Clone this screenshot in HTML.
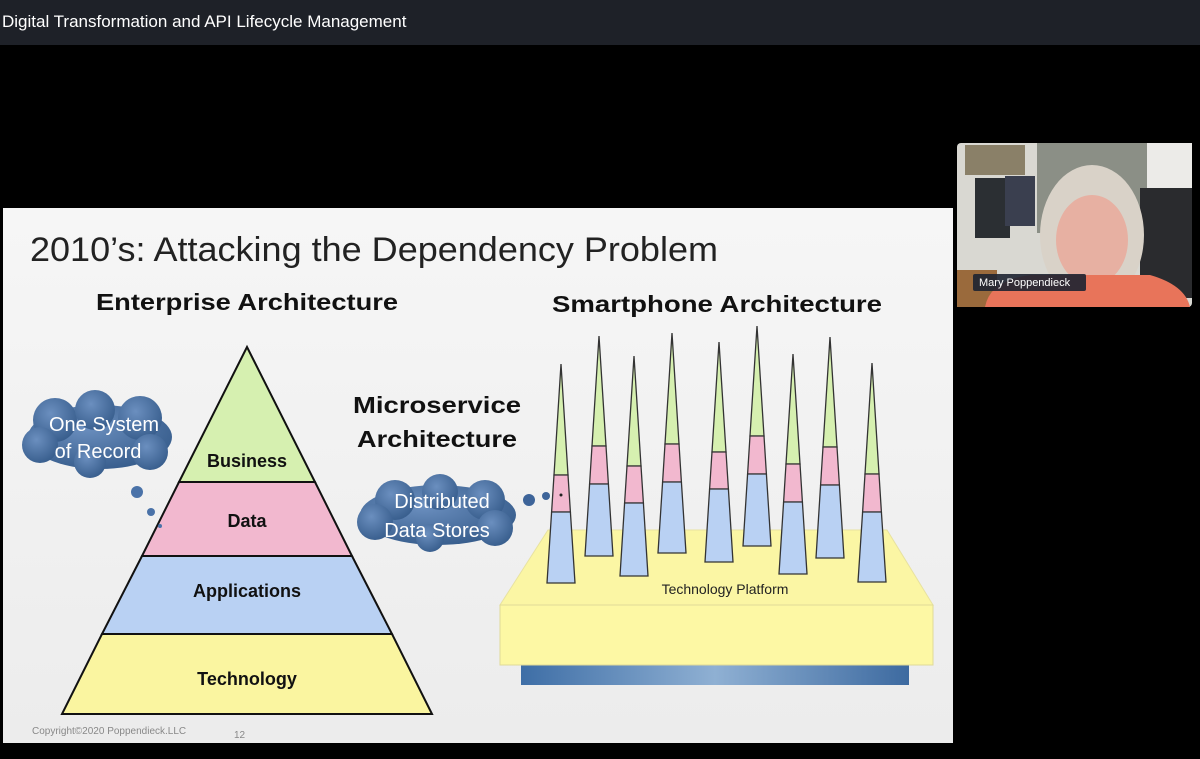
<!DOCTYPE html>
<html><head><meta charset="utf-8"><style>
html,body{margin:0;padding:0;width:1200px;height:759px;overflow:hidden;background:#000;}
svg{display:block}
</style></head><body>
<svg width="1200" height="759" viewBox="0 0 1200 759" xmlns="http://www.w3.org/2000/svg" font-family="Liberation Sans, sans-serif">
<defs>
<linearGradient id="slide" x1="0" y1="0" x2="0" y2="1"><stop offset="0" stop-color="#f6f6f6"/><stop offset="1" stop-color="#ececec"/></linearGradient>
<radialGradient id="cloud" cx="0.4" cy="0.35" r="0.8"><stop offset="0" stop-color="#6b8fbf"/><stop offset="1" stop-color="#2f5584"/></radialGradient>
<linearGradient id="strip" x1="0" y1="0" x2="1" y2="0"><stop offset="0" stop-color="#3e6ea6"/><stop offset="0.5" stop-color="#8fb0d3"/><stop offset="1" stop-color="#3d6aa0"/></linearGradient>
</defs>
<rect x="0" y="0" width="1200" height="45" fill="#1e2128"/>
<text x="2" y="27" font-size="17" fill="#ffffff">Digital Transformation and API Lifecycle Management</text>
<rect x="3" y="208" width="950" height="535" fill="url(#slide)"/>
<text x="30" y="261" font-size="34" fill="#222" textLength="688" lengthAdjust="spacingAndGlyphs">2010’s:  Attacking the Dependency Problem</text>
<text x="96" y="310" font-size="23" font-weight="bold" fill="#111" textLength="302" lengthAdjust="spacingAndGlyphs">Enterprise Architecture</text>
<text x="552" y="312" font-size="23" font-weight="bold" fill="#111" textLength="330" lengthAdjust="spacingAndGlyphs">Smartphone Architecture</text>
<text x="353" y="413" font-size="23" font-weight="bold" fill="#111" textLength="168" lengthAdjust="spacingAndGlyphs">Microservice</text>
<text x="357" y="447" font-size="23" font-weight="bold" fill="#111" textLength="160" lengthAdjust="spacingAndGlyphs">Architecture</text>
<!-- pyramid -->
<polygon points="247,347 315,482 179,482" fill="#d6f0b0" stroke="#111" stroke-width="2"/>
<polygon points="179,482 315,482 352,556 142,556" fill="#f2b8cf" stroke="#111" stroke-width="2"/>
<polygon points="142,556 352,556 392,634 102,634" fill="#b9d1f3" stroke="#111" stroke-width="2"/>
<polygon points="102,634 392,634 432,714 62,714" fill="#faf5a0" stroke="#111" stroke-width="2"/>
<g font-size="18" font-weight="bold" fill="#111" text-anchor="middle">
<text x="247" y="467">Business</text><text x="247" y="527">Data</text>
<text x="247" y="597">Applications</text><text x="247" y="685">Technology</text></g>
<!-- cloud 1 -->
<g fill="url(#cloud)">
<ellipse cx="100" cy="437" rx="72" ry="32"/><circle cx="55" cy="420" r="22"/><circle cx="95" cy="410" r="20"/><circle cx="140" cy="418" r="22"/><circle cx="40" cy="445" r="18"/><circle cx="90" cy="462" r="16"/><circle cx="150" cy="452" r="18"/>
</g>
<circle cx="137" cy="492" r="6" fill="#4a72a8"/><circle cx="151" cy="512" r="4" fill="#4a72a8"/><circle cx="160" cy="526" r="2" fill="#4a72a8"/>
<text x="104" y="431" font-size="20" fill="#fff" text-anchor="middle">One System</text>
<text x="98" y="458" font-size="20" fill="#fff" text-anchor="middle">of Record</text>
<!-- cloud 2 -->
<g fill="url(#cloud)">
<ellipse cx="438" cy="515" rx="78" ry="30"/><circle cx="395" cy="500" r="20"/><circle cx="440" cy="492" r="18"/><circle cx="485" cy="500" r="20"/><circle cx="375" cy="522" r="18"/><circle cx="430" cy="538" r="14"/><circle cx="495" cy="528" r="18"/>
</g>
<circle cx="529" cy="500" r="6" fill="#3d6499"/><circle cx="546" cy="496" r="4" fill="#3d6499"/>
<text x="442" y="508" font-size="20" fill="#fff" text-anchor="middle">Distributed</text>
<text x="437" y="537" font-size="20" fill="#fff" text-anchor="middle">Data Stores</text>
<!-- platform -->
<rect x="521" y="664" width="388" height="21" fill="url(#strip)"/>
<polygon points="548,530 887,530 933,605 500,605" fill="#fbf6a4" stroke="#e8e2a0"/>
<rect x="500" y="605" width="433" height="60" fill="#fdf8a4" stroke="#e0da98"/>
<text x="725" y="594" font-size="14" fill="#222" text-anchor="middle">Technology Platform</text>
<!-- spikes -->
<g stroke="#333" stroke-width="1.3">
<polygon points="561,364 568,475 554,475" fill="#d6f0b0"/><polygon points="554,475 568,475 570.4,512 551.6,512" fill="#f2b8cf"/><polygon points="551.6,512 570.4,512 575,583 547,583" fill="#b9d1f3"/>
<polygon points="599,336 606,446 592,446" fill="#d6f0b0"/><polygon points="592,446 606,446 608.4,484 589.6,484" fill="#f2b8cf"/><polygon points="589.6,484 608.4,484 613,556 585,556" fill="#b9d1f3"/>
<polygon points="634,356 641,466 627,466" fill="#d6f0b0"/><polygon points="627,466 641,466 643.4,503 624.6,503" fill="#f2b8cf"/><polygon points="624.6,503 643.4,503 648,576 620,576" fill="#b9d1f3"/>
<polygon points="672,333 679,444 665,444" fill="#d6f0b0"/><polygon points="665,444 679,444 681.4,482 662.6,482" fill="#f2b8cf"/><polygon points="662.6,482 681.4,482 686,553 658,553" fill="#b9d1f3"/>
<polygon points="719,342 726,452 712,452" fill="#d6f0b0"/><polygon points="712,452 726,452 728.4,489 709.6,489" fill="#f2b8cf"/><polygon points="709.6,489 728.4,489 733,562 705,562" fill="#b9d1f3"/>
<polygon points="757,326 764,436 750,436" fill="#d6f0b0"/><polygon points="750,436 764,436 766.4,474 747.6,474" fill="#f2b8cf"/><polygon points="747.6,474 766.4,474 771,546 743,546" fill="#b9d1f3"/>
<polygon points="793,354 800,464 786,464" fill="#d6f0b0"/><polygon points="786,464 800,464 802.4,502 783.6,502" fill="#f2b8cf"/><polygon points="783.6,502 802.4,502 807,574 779,574" fill="#b9d1f3"/>
<polygon points="830,337 837,447 823,447" fill="#d6f0b0"/><polygon points="823,447 837,447 839.4,485 820.6,485" fill="#f2b8cf"/><polygon points="820.6,485 839.4,485 844,558 816,558" fill="#b9d1f3"/>
<polygon points="872,363 879,474 865,474" fill="#d6f0b0"/><polygon points="865,474 879,474 881.4,512 862.6,512" fill="#f2b8cf"/><polygon points="862.6,512 881.4,512 886,582 858,582" fill="#b9d1f3"/>
</g>
<circle cx="561" cy="495" r="1.5" fill="#222"/>
<text x="32" y="734" font-size="10" fill="#888">Copyright©2020 Poppendieck.LLC</text>
<text x="234" y="738" font-size="10" fill="#888">12</text>
<!-- webcam -->
<g>
<rect x="957" y="143" width="235" height="164" rx="4" fill="#d9d8d2"/>
<rect x="1037" y="143" width="110" height="90" fill="#8b8f86"/>
<rect x="1147" y="143" width="45" height="45" fill="#ecebe8"/>
<rect x="965" y="145" width="60" height="30" fill="#8a8068"/>
<rect x="975" y="178" width="35" height="60" fill="#2b2f33"/>
<rect x="1005" y="176" width="30" height="50" fill="#3a3f4f"/>
<rect x="1140" y="188" width="52" height="110" fill="#2a2b2e"/>
<rect x="957" y="270" width="40" height="37" fill="#9a6a3c"/>
<ellipse cx="1092" cy="235" rx="52" ry="70" fill="#d9d2c8"/>
<ellipse cx="1092" cy="240" rx="36" ry="45" fill="#e7b0a2"/>
<path d="M985 307 Q990 280 1030 275 L1150 275 Q1185 285 1190 307 Z" fill="#e8745a"/>
<rect x="973" y="274" width="113" height="17" rx="2" fill="#1d2331" opacity="0.9"/>
<text x="979" y="286" font-size="11" fill="#fff">Mary Poppendieck</text>
</g>
</svg>
</body></html>
